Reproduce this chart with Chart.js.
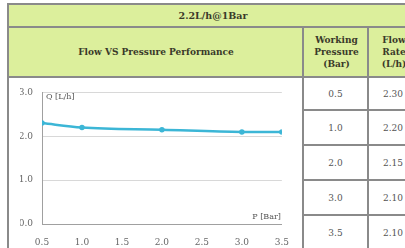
<!DOCTYPE html>
<html lang="en">
<head>
    <meta charset="UTF-8">
    <title>2.2L/h@1Bar</title>
    <script src="https://cdn.jsdelivr.net/npm/chart.js"></script>
    <style>
        body {
            margin: 0;
            width: 405px;
            height: 248px;
            overflow: hidden;
            background: #fff;
            position: relative;
            font-family: "DejaVu Serif", "Liberation Serif", serif;
        }
        .cell {
            position: absolute;
            box-sizing: border-box;
            display: flex;
            align-items: center;
            justify-content: center;
            text-align: center;
        }
        .head {
            background: #dcef9c;
            font-weight: bold;
            color: #3a3a2a;
            font-size: 9px;
            line-height: 12px;
        }
        .val {
            color: #555;
            font-size: 9px;
        }
        .hl { position: absolute; height: 2px; background: #8a8a8a; }
        .vl { position: absolute; width: 2px; background: #8a8a8a; }
        #chartBox {
            position: absolute;
            left: 10px;
            top: 78px;
            width: 292px;
            height: 170px;
        }
    </style>
</head>
<body>
    <div class="cell head" style="left:8px;top:4px;width:410px;height:23px;font-size:9.5px;">2.2L/h@1Bar</div>
    <div class="cell head" style="left:8px;top:27px;width:296px;height:50px;">Flow VS Pressure Performance</div>
    <div class="cell head" style="left:304px;top:27px;width:65px;height:50px;">Working<br>Pressure<br>(Bar)</div>
    <div class="cell head" style="left:369px;top:27px;width:50px;height:50px;">Flow<br>Rate<br>(L/h)</div>
    <div id="rows"></div>

    <div id="chartBox"><canvas id="flowChart" width="292" height="170"></canvas></div>

    <script>
        const pressure = [0.5, 1.0, 2.0, 3.0, 3.5];
        const flowRate = [2.30, 2.20, 2.15, 2.10, 2.10];
        const pressureLabels = ['0.5', '1.0', '2.0', '3.0', '3.5'];
        const flowLabels = ['2.30', '2.20', '2.15', '2.10', '2.10'];

        // table lines and cells on the right
        const rowTops = [77, 110, 145, 180, 215];
        const rows = document.getElementById('rows');
        let html = '';
        html += '<div class="hl" style="left:8px;top:3px;width:410px;"></div>';
        html += '<div class="hl" style="left:8px;top:26px;width:410px;"></div>';
        html += '<div class="hl" style="left:8px;top:76px;width:410px;"></div>';
        html += '<div class="vl" style="left:7px;top:3px;height:250px;"></div>';
        html += '<div class="vl" style="left:302px;top:27px;height:230px;"></div>';
        html += '<div class="vl" style="left:367px;top:27px;height:230px;"></div>';
        rowTops.forEach((t, i) => {
            if (i > 0) html += '<div class="hl" style="left:304px;top:' + (t - 1) + 'px;width:110px;"></div>';
            html += '<div class="cell val" style="left:304px;top:' + t + 'px;width:63px;height:' + (i === 0 ? 33 : 35) + 'px;">' + pressureLabels[i] + '</div>';
            html += '<div class="cell val" style="left:369px;top:' + t + 'px;width:48px;height:' + (i === 0 ? 33 : 35) + 'px;">' + flowLabels[i] + '</div>';
        });
        rows.innerHTML = html;

        const axisTitles = {
            id: 'axisTitles',
            afterDraw(chart) {
                const { ctx, chartArea } = chart;
                ctx.save();
                ctx.fillStyle = '#555';
                ctx.font = '8px "DejaVu Serif", serif';
                ctx.textBaseline = 'middle';
                ctx.textAlign = 'left';
                ctx.fillText('Q [L/h]', chartArea.left + 4, chartArea.top + 5);
                ctx.textAlign = 'right';
                ctx.fillText('P [Bar]', chartArea.right - 1, chartArea.bottom - 7);
                ctx.restore();
            }
        };

        new Chart(document.getElementById('flowChart'), {
            type: 'line',
            data: {
                datasets: [{
                    data: pressure.map((p, i) => ({ x: p, y: flowRate[i] })),
                    borderColor: '#3cb6d6',
                    backgroundColor: '#3cb6d6',
                    borderWidth: 2.5,
                    pointRadius: 1.5,
                    cubicInterpolationMode: 'monotone'
                }]
            },
            options: {
                responsive: false,
                animation: false,
                layout: { padding: { left: 10, right: 14, top: 9, bottom: 0 } },
                plugins: { legend: { display: false }, tooltip: { enabled: false } },
                scales: {
                    x: {
                        type: 'linear',
                        min: 0.5,
                        max: 3.5,
                        afterFit: s => { s.height = 24; },
                        grid: { display: false, drawTicks: false },
                        border: { display: true, color: '#a0a0a0' },
                        ticks: {
                            stepSize: 0.5,
                            padding: 13,
                            color: '#666',
                            font: { size: 9, family: '"DejaVu Serif", serif' },
                            callback: v => v.toFixed(1)
                        }
                    },
                    y: {
                        min: 0,
                        max: 3,
                        afterFit: s => { s.width = 22; },
                        grid: { color: '#d8d8d8', drawTicks: false },
                        border: { display: true, color: '#a0a0a0' },
                        ticks: {
                            stepSize: 1,
                            padding: 9,
                            color: '#666',
                            font: { size: 9, family: '"DejaVu Serif", serif' },
                            callback: v => v.toFixed(1)
                        }
                    }
                }
            },
            plugins: [axisTitles]
        });
    </script>
</body>
</html>
